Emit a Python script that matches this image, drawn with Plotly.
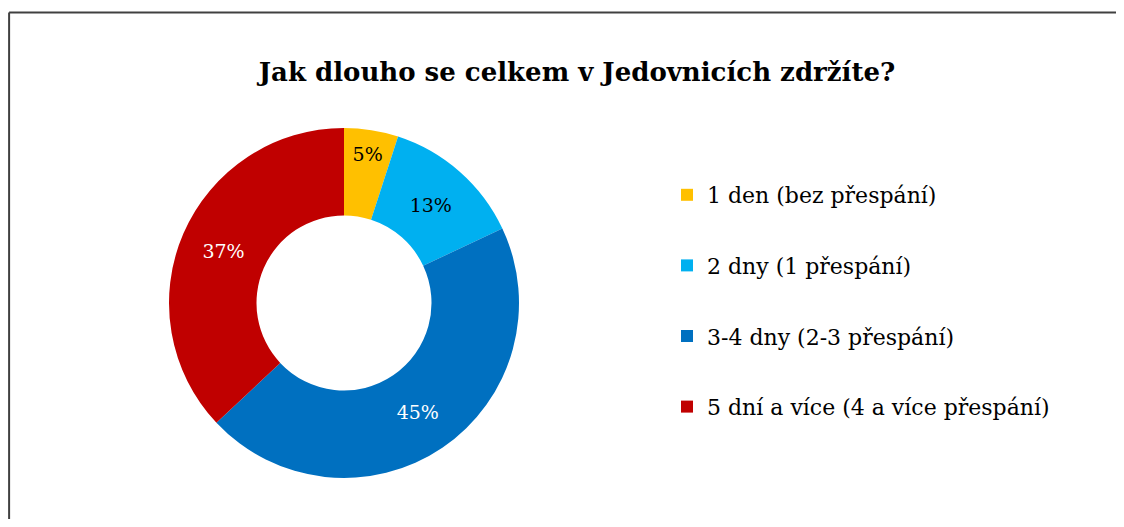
import plotly.graph_objects as go

categories = ["1 den (bez přespání)", "2 dny (1 přespání)", "3-4 dny (2-3 přespání)", "5 dní a více (4 a více přespání)"]
values = [5, 13, 45, 37]
colors = ["#FFC000", "#00B0F0", "#0070C0", "#C00000"]
text_colors = ["#000000", "#000000", "#FFFFFF", "#FFFFFF"]
title = "Jak dlouho se celkem v Jedovnicích zdržíte?"

# page has an 8px body margin; figure occupies page area 8..1116 x 8..519
OFF = 8
W, H = 1124 - 2 * OFF, 527 - 2 * OFF
FONT = "DejaVu Serif"


def px(x):
    return (x - OFF) / W


def py(y):
    return 1 - (y - OFF) / H


fig = go.Figure()
fig.add_trace(go.Pie(
    labels=categories, values=values, hole=0.5, sort=False, direction="clockwise",
    rotation=0, marker=dict(colors=colors, line=dict(width=0)),
    texttemplate="%{percent:.0%}", textposition="inside", insidetextorientation="horizontal",
    textfont=dict(family=FONT, size=19, color=text_colors),
    domain=dict(x=[px(169), px(519)], y=[py(478), py(128)]),
    showlegend=False, hoverinfo="label+percent",
))
for i, (c, col) in enumerate(zip(categories, colors)):
    fig.add_trace(go.Scatter(
        x=[None], y=[None], mode="markers", name=c, legendgroup=str(i),
        marker=dict(symbol="square", size=14, color=col),
    ))

border = dict(color="#404040", width=2)
fig.update_layout(
    width=W, height=H, margin=dict(l=0, r=0, t=0, b=0),
    paper_bgcolor="white", plot_bgcolor="white",
    xaxis=dict(visible=False, domain=[0.99, 1.0]), yaxis=dict(visible=False, domain=[0.99, 1.0]),
    title=dict(text="<b>" + title + "</b>", x=px(577), y=py(72), xanchor="center", yanchor="middle",
               font=dict(family=FONT, size=26, color="#000000")),
    legend=dict(x=px(667), y=py(174), xanchor="left", yanchor="top", tracegroupgap=39,
                font=dict(family=FONT, size=22, color="#000000"), bgcolor="rgba(0,0,0,0)",
                itemsizing="constant"),
    shapes=[
        dict(type="line", xref="paper", yref="paper", x0=0.001, x1=1.2, y0=py(12.5), y1=py(12.5), line=border, layer="above"),
        dict(type="line", xref="paper", yref="paper", x0=0.001, x1=0.001, y0=-0.1, y1=py(12.5), line=border, layer="above"),
    ],
)
fig.write_html("out.html")
